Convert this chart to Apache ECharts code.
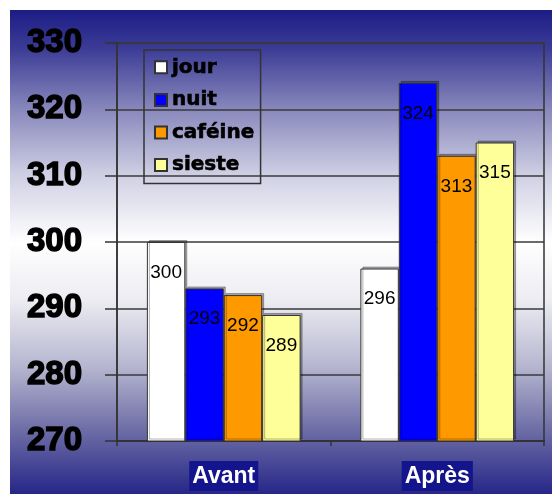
<!DOCTYPE html>
<html>
<head>
<meta charset="utf-8">
<script src="https://cdn.jsdelivr.net/npm/echarts@6/dist/echarts.min.js"></script>
<style>
  html, body { margin: 0; padding: 0; background: #ffffff; }
  #chart { width: 552px; height: 494px; }
</style>
</head>
<body>
<div id="chart"></div>
<script>
// Categories and measured values per condition
const categories = ['Avant', 'Après'];
const jour = [300, 296];
const nuit = [293, 324];
const cafeine = [292, 313];
const sieste = [289, 315];
const yTicks = [270, 280, 290, 300, 310, 320, 330];

const seriesDefs = [
  { name: 'jour', data: jour, color: '#ffffff' },
  { name: 'nuit', data: nuit, color: '#0000ff' },
  { name: 'caféine', data: cafeine, color: '#ff9900' },
  { name: 'sieste', data: sieste, color: '#ffff99' }
];

const chart = echarts.init(document.getElementById('chart'), null, { renderer: 'canvas' });

const option = {
  animation: false,
  backgroundColor: '#ffffff',
  graphic: [{
    type: 'rect',
    z: -10,
    silent: true,
    shape: { x: 10, y: 10, width: 542, height: 484 },
    style: {
      fill: new echarts.graphic.LinearGradient(0, 0, 0, 1, [
        { offset: 0.00, color: '#1c1c86' },
        { offset: 0.08, color: '#3c3c96' },
        { offset: 0.20, color: '#8585bb' },
        { offset: 0.34, color: '#cfcfe4' },
        { offset: 0.48, color: '#ffffff' },
        { offset: 0.60, color: '#ececf2' },
        { offset: 0.74, color: '#b4b4cf' },
        { offset: 0.87, color: '#6c6ca6' },
        { offset: 1.00, color: '#262688' }
      ])
    }
  }],
  legend: {
    orient: 'vertical',
    left: 144,
    top: 50,
    padding: [7, 6, 8, 10],
    itemWidth: 12,
    itemHeight: 12,
    itemGap: 12,
    icon: 'rect',
    borderColor: '#333333',
    borderWidth: 1.5,
    backgroundColor: 'transparent',
    textStyle: {
      fontFamily: 'DejaVu Sans',
      fontWeight: 'bold',
      fontSize: 20,
      color: '#000000',
      textBorderColor: '#000000',
      textBorderWidth: 0.6,
      lineHeight: 20
    },
    data: seriesDefs.map(s => s.name)
  },
  grid: {
    left: 117,
    right: 8,
    top: 43,
    bottom: 53,
    show: true,
    borderColor: '#333333',
    borderWidth: 1.5,
    backgroundColor: 'transparent'
  },
  xAxis: {
    type: 'category',
    data: categories,
    axisLine: { lineStyle: { color: '#333333', width: 2 } },
    axisTick: { show: true, length: 5, lineStyle: { color: '#333333', width: 1.5 } },
    axisLabel: {
      margin: 20,
      color: '#ffffff',
      fontFamily: 'Liberation Sans',
      fontWeight: 'bold',
      fontSize: 23,
      backgroundColor: '#14148c',
      padding: [4, 3, 3, 3]
    }
  },
  yAxis: {
    type: 'value',
    min: yTicks[0],
    max: yTicks[yTicks.length - 1],
    interval: 10,
    axisLine: { show: true, lineStyle: { color: '#333333', width: 1.5 } },
    axisTick: { show: true, length: 12, lineStyle: { color: '#333333', width: 1.5 } },
    splitLine: { show: true, lineStyle: { color: '#3a3a3a', width: 1.5 } },
    axisLabel: {
      margin: 35,
      color: '#000000',
      fontFamily: 'Liberation Sans',
      fontWeight: 'bold',
      fontSize: 33,
      textBorderColor: '#000000',
      textBorderWidth: 1.5
    }
  },
  series: seriesDefs.map(s => ({
    name: s.name,
    type: 'bar',
    data: s.data,
    barGap: '0%',
    barCategoryGap: '28%',
    itemStyle: {
      color: s.color,
      borderColor: '#333333',
      borderWidth: 1,
      shadowColor: 'rgba(0,0,0,0.3)',
      shadowOffsetX: 2,
      shadowOffsetY: -2
    },
    label: {
      show: true,
      position: 'insideTop',
      distance: 21,
      color: '#000000',
      fontFamily: 'Liberation Sans',
      fontSize: 19
    }
  }))
};

chart.setOption(option);
</script>
</body>
</html>
